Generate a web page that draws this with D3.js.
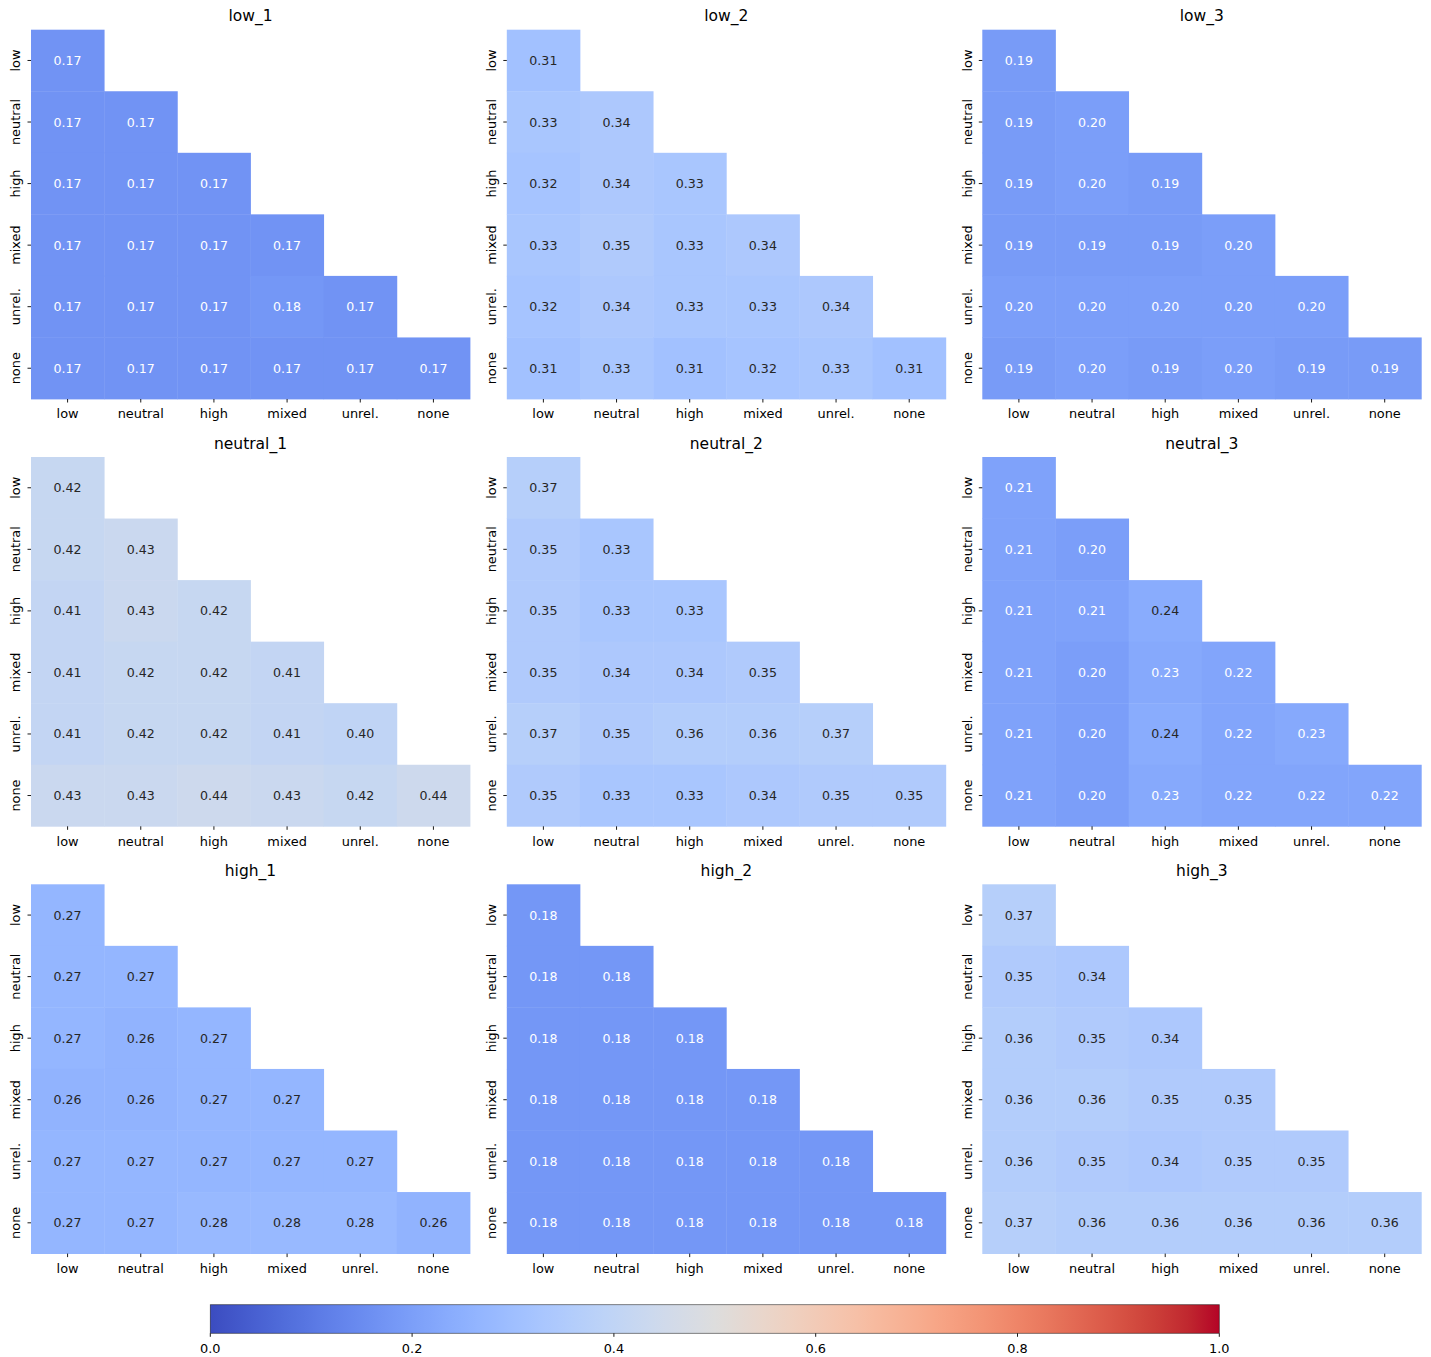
<!DOCTYPE html>
<html>
<head>
<meta charset="utf-8">
<script src="https://cdn.jsdelivr.net/npm/d3@7"></script>
<style>
  html, body { margin: 0; padding: 0; background: #fff; }
  svg { display: block; font-family: "DejaVu Sans", sans-serif; }
</style>
</head>
<body>
<svg id="chart" width="1431" height="1357"></svg>
<script>
// Category labels shared by every matrix (rows and columns)
const categories = ["low", "neutral", "high", "mixed", "unrel.", "none"];

// Panel titles, in reading order
const panelTitles = ["low_1", "low_2", "low_3",
                     "neutral_1", "neutral_2", "neutral_3",
                     "high_1", "high_2", "high_3"];

// Lower-triangular matrices (row i holds i+1 values)
const low_1 = [
  [0.17],
  [0.17, 0.17],
  [0.17, 0.17, 0.17],
  [0.17, 0.17, 0.17, 0.17],
  [0.17, 0.17, 0.17, 0.18, 0.17],
  [0.17, 0.17, 0.17, 0.17, 0.17, 0.17]
];
const low_2 = [
  [0.31],
  [0.33, 0.34],
  [0.32, 0.34, 0.33],
  [0.33, 0.35, 0.33, 0.34],
  [0.32, 0.34, 0.33, 0.33, 0.34],
  [0.31, 0.33, 0.31, 0.32, 0.33, 0.31]
];
const low_3 = [
  [0.19],
  [0.19, 0.20],
  [0.19, 0.20, 0.19],
  [0.19, 0.19, 0.19, 0.20],
  [0.20, 0.20, 0.20, 0.20, 0.20],
  [0.19, 0.20, 0.19, 0.20, 0.19, 0.19]
];
const neutral_1 = [
  [0.42],
  [0.42, 0.43],
  [0.41, 0.43, 0.42],
  [0.41, 0.42, 0.42, 0.41],
  [0.41, 0.42, 0.42, 0.41, 0.40],
  [0.43, 0.43, 0.44, 0.43, 0.42, 0.44]
];
const neutral_2 = [
  [0.37],
  [0.35, 0.33],
  [0.35, 0.33, 0.33],
  [0.35, 0.34, 0.34, 0.35],
  [0.37, 0.35, 0.36, 0.36, 0.37],
  [0.35, 0.33, 0.33, 0.34, 0.35, 0.35]
];
const neutral_3 = [
  [0.21],
  [0.21, 0.20],
  [0.21, 0.21, 0.24],
  [0.21, 0.20, 0.23, 0.22],
  [0.21, 0.20, 0.24, 0.22, 0.23],
  [0.21, 0.20, 0.23, 0.22, 0.22, 0.22]
];
const high_1 = [
  [0.27],
  [0.27, 0.27],
  [0.27, 0.26, 0.27],
  [0.26, 0.26, 0.27, 0.27],
  [0.27, 0.27, 0.27, 0.27, 0.27],
  [0.27, 0.27, 0.28, 0.28, 0.28, 0.26]
];
const high_2 = [
  [0.18],
  [0.18, 0.18],
  [0.18, 0.18, 0.18],
  [0.18, 0.18, 0.18, 0.18],
  [0.18, 0.18, 0.18, 0.18, 0.18],
  [0.18, 0.18, 0.18, 0.18, 0.18, 0.18]
];
const high_3 = [
  [0.37],
  [0.35, 0.34],
  [0.36, 0.35, 0.34],
  [0.36, 0.36, 0.35, 0.35],
  [0.36, 0.35, 0.34, 0.35, 0.35],
  [0.37, 0.36, 0.36, 0.36, 0.36, 0.36]
];
const matrices = [low_1, low_2, low_3, neutral_1, neutral_2, neutral_3, high_1, high_2, high_3];

// Colorbar tick values
const colorbarTicks = [0.0, 0.2, 0.4, 0.6, 0.8, 1.0];

// Cool-warm diverging colour map (33 control points, Moreland)
const coolwarmStops = [
  [59,76,192],[68,90,204],[77,104,215],[87,117,225],[98,130,234],[108,142,241],
  [119,154,247],[130,165,251],[141,176,254],[152,185,255],[163,194,255],[174,201,253],
  [184,208,249],[194,213,244],[204,217,238],[213,219,230],[221,221,221],[229,216,209],
  [236,211,197],[241,204,185],[245,196,173],[247,187,160],[247,177,148],[247,166,135],
  [244,154,123],[241,141,111],[236,127,99],[229,112,88],[222,96,77],[213,80,66],
  [203,62,56],[192,40,47],[180,4,38]
];
const coolwarm = d3.scaleLinear()
  .domain(coolwarmStops.map((_, i) => i / (coolwarmStops.length - 1)))
  .range(coolwarmStops.map(c => d3.rgb(c[0], c[1], c[2])))
  .interpolate(d3.interpolateRgb)
  .clamp(true);
const color = d3.scaleLinear().domain([0, 1]).range([0, 1]);
const fillFor = v => coolwarm(color(v));

// Annotation colour chosen from the cell's relative luminance
function relLum(c) {
  const rgb = d3.rgb(c);
  const lin = x => { x /= 255; return x <= 0.03928 ? x / 12.92 : Math.pow((x + 0.055) / 1.055, 2.4); };
  return 0.2126 * lin(rgb.r) + 0.7152 * lin(rgb.g) + 0.0722 * lin(rgb.b);
}
const textFor = v => relLum(fillFor(v)) > 0.408 ? "#262626" : "#ffffff";

const svg = d3.select("#chart");

// Grid geometry
const colX = [31, 506.8, 982.3];
const rowY = [29.7, 457.0, 884.3];
const panelW = 439;
const panelH = 369.3;

matrices.forEach((m, k) => {
  const px = colX[k % 3], py = rowY[Math.floor(k / 3)];
  const g = svg.append("g").attr("transform", `translate(${px},${py})`);
  const x = d3.scaleBand().domain(categories).range([0, panelW]).padding(0);
  const y = d3.scaleBand().domain(categories).range([0, panelH]).padding(0);

  const cells = [];
  m.forEach((row, i) => row.forEach((v, j) => cells.push({ r: categories[i], c: categories[j], v })));

  g.selectAll("rect.cell").data(cells).join("rect")
    .attr("class", "cell")
    .attr("x", d => x(d.c))
    .attr("y", d => y(d.r))
    .attr("width", x.bandwidth() + 0.4)
    .attr("height", y.bandwidth() + 0.4)
    .attr("fill", d => fillFor(d.v));

  g.selectAll("text.annot").data(cells).join("text")
    .attr("class", "annot")
    .attr("x", d => x(d.c) + x.bandwidth() / 2)
    .attr("y", d => y(d.r) + y.bandwidth() / 2)
    .attr("text-anchor", "middle")
    .attr("dominant-baseline", "central")
    .attr("font-size", "12.6px")
    .attr("fill", d => textFor(d.v))
    .text(d => d3.format(".2f")(d.v));

  // Title
  g.append("text")
    .attr("x", panelW / 2)
    .attr("y", -8.5)
    .attr("text-anchor", "middle")
    .attr("font-size", "15.5px")
    .attr("fill", "#000")
    .text(panelTitles[k]);

  // x axis ticks and labels
  const xt = g.append("g").attr("transform", `translate(0,${panelH})`);
  categories.forEach(c => {
    const cx = x(c) + x.bandwidth() / 2;
    xt.append("line").attr("x1", cx).attr("x2", cx).attr("y1", 0).attr("y2", 3.5)
      .attr("stroke", "#000").attr("stroke-width", 0.9);
    xt.append("text").attr("x", cx).attr("y", 19.3)
      .attr("text-anchor", "middle").attr("font-size", "12.9px").attr("fill", "#000")
      .text(c);
  });

  // y axis ticks and rotated labels
  const yt = g.append("g");
  categories.forEach(c => {
    const cy = y(c) + y.bandwidth() / 2;
    yt.append("line").attr("x1", -3.5).attr("x2", 0).attr("y1", cy).attr("y2", cy)
      .attr("stroke", "#000").attr("stroke-width", 0.9);
    yt.append("text")
      .attr("transform", `translate(-10.8,${cy}) rotate(-90)`)
      .attr("text-anchor", "middle").attr("font-size", "12.9px").attr("fill", "#000")
      .text(c);
  });
});

// Horizontal colorbar
const cbX0 = 210.3, cbX1 = 1219.3, cbY = 1304.7, cbH = 28.6;
const cbScale = d3.scaleLinear().domain([0, 1]).range([cbX0, cbX1]);
const defs = svg.append("defs");
const grad = defs.append("linearGradient").attr("id", "cbgrad")
  .attr("x1", "0%").attr("x2", "100%").attr("y1", "0%").attr("y2", "0%");
d3.range(0, 1.0001, 1 / 64).forEach(t => {
  grad.append("stop").attr("offset", `${t * 100}%`).attr("stop-color", fillFor(t));
});
svg.append("rect")
  .attr("x", cbScale(0)).attr("y", cbY)
  .attr("width", cbScale(1) - cbScale(0)).attr("height", cbH)
  .attr("fill", "url(#cbgrad)")
  .attr("stroke", "#000").attr("stroke-width", 0.8).attr("stroke-opacity", 0.6);

const cbAxis = svg.append("g").attr("transform", `translate(0,${cbY + cbH})`);
colorbarTicks.forEach(t => {
  cbAxis.append("line").attr("x1", cbScale(t)).attr("x2", cbScale(t))
    .attr("y1", 0).attr("y2", 3.5).attr("stroke", "#000").attr("stroke-width", 0.9);
  cbAxis.append("text").attr("x", cbScale(t)).attr("y", 19.7)
    .attr("text-anchor", "middle").attr("font-size", "12.9px").attr("fill", "#000")
    .text(d3.format(".1f")(t));
});
</script>
</body>
</html>
